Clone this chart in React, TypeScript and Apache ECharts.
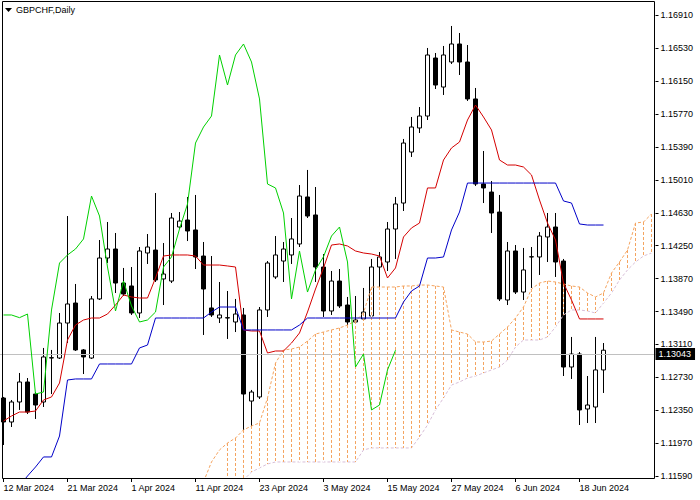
import React, { useEffect, useRef } from "react";
import * as echarts from "echarts";

const dates = [
  "12 Mar 2024","13 Mar 2024","14 Mar 2024","15 Mar 2024","17 Mar 2024","18 Mar 2024","19 Mar 2024","20 Mar 2024",
  "21 Mar 2024","22 Mar 2024","24 Mar 2024","25 Mar 2024","26 Mar 2024","27 Mar 2024","28 Mar 2024","29 Mar 2024",
  "1 Apr 2024","2 Apr 2024","3 Apr 2024","4 Apr 2024","5 Apr 2024","8 Apr 2024","9 Apr 2024","10 Apr 2024",
  "11 Apr 2024","12 Apr 2024","15 Apr 2024","16 Apr 2024","17 Apr 2024","18 Apr 2024","19 Apr 2024","22 Apr 2024",
  "23 Apr 2024","24 Apr 2024","25 Apr 2024","26 Apr 2024","29 Apr 2024","30 Apr 2024","1 May 2024","2 May 2024",
  "3 May 2024","6 May 2024","7 May 2024","8 May 2024","9 May 2024","10 May 2024","13 May 2024","14 May 2024",
  "15 May 2024","16 May 2024","17 May 2024","20 May 2024","21 May 2024","22 May 2024","23 May 2024","24 May 2024",
  "27 May 2024","28 May 2024","29 May 2024","30 May 2024","31 May 2024","3 Jun 2024","4 Jun 2024","5 Jun 2024",
  "6 Jun 2024","7 Jun 2024","10 Jun 2024","11 Jun 2024","12 Jun 2024","13 Jun 2024","14 Jun 2024","17 Jun 2024",
  "18 Jun 2024","19 Jun 2024","20 Jun 2024","21 Jun 2024","24 Jun 2024","25 Jun 2024","26 Jun 2024","27 Jun 2024",
  "28 Jun 2024","1 Jul 2024"
];

const opens = [
  1.12491,1.12214,1.12445,1.12676,1.12537,1.12445,1.12953,1.12953,1.13357,1.13588,
  1.13046,1.12953,1.13635,1.14108,1.14212,1.13819,1.13785,1.13473,1.14166,1.14200,
  1.13866,1.13842,1.14466,1.14547,1.14432,1.14131,1.13531,1.13415,1.13415,1.13369,
  1.13450,1.12456,1.12503,1.13508,1.13889,1.14073,1.14143,1.14270,1.14813,1.14605,
  1.14004,1.13496,1.13842,1.13565,1.13369,1.13404,1.13438,1.14004,1.14062,1.14443,
  1.14743,1.15332,1.15610,1.15748,1.16418,1.16083,1.16372,1.16580,1.16372,1.15945,
  1.14963,1.14870,1.14639,1.13623,1.14189,1.13715,1.14120,1.14120,1.14351,1.14466,
  1.14073,1.12849,1.12999,1.12364,1.12387,1.12815
];
const closes = [
  1.12214,1.12445,1.12676,1.12329,1.12410,1.12965,1.12957,1.13357,1.13577,1.13046,
  1.12965,1.13635,1.14108,1.14212,1.13819,1.13692,1.13473,1.14189,1.14235,1.13854,
  1.13923,1.14570,1.14535,1.14420,1.14120,1.13750,1.13450,1.13450,1.13419,1.13461,
  1.12537,1.12560,1.13508,1.14050,1.14143,1.14212,1.14328,1.14824,1.14593,1.14004,
  1.13496,1.13842,1.13554,1.13369,1.13392,1.13484,1.14004,1.14120,1.14443,1.14732,
  1.15436,1.15621,1.15748,1.16453,1.16106,1.16453,1.16580,1.16372,1.15945,1.14963,
  1.14917,1.14628,1.13635,1.14189,1.13715,1.13970,1.14123,1.14362,1.14466,1.14062,
  1.12849,1.12999,1.12353,1.12410,1.12815,1.13043
];
const lows = [
  1.11948,1.12156,1.12353,1.12306,1.12249,1.12387,1.12537,1.12942,1.13126,1.13034,
  1.12768,1.12942,1.13623,1.14050,1.13704,1.13669,1.13450,1.13415,1.14039,1.13831,
  1.13565,1.13819,1.14443,1.14304,1.13981,1.13219,1.13427,1.13357,1.13173,1.13253,
  1.11706,1.12145,1.12480,1.13427,1.13866,1.13831,1.14039,1.14235,1.14570,1.13831,
  1.13427,1.13450,1.13531,1.13300,1.13126,1.13277,1.13277,1.13646,1.13958,1.14097,
  1.14651,1.15275,1.15552,1.15702,1.16060,1.15991,1.16349,1.16222,1.15922,1.14940,
  1.14743,1.14397,1.13611,1.13565,1.13692,1.13623,1.13762,1.13912,1.14062,1.13889,
  1.12745,1.12711,1.12179,1.12202,1.12202,1.12549
];
const highs = [
  1.12503,1.12468,1.12780,1.12722,1.12560,1.13069,1.13046,1.13473,1.14593,1.13808,
  1.13057,1.13669,1.14316,1.14524,1.14397,1.13993,1.14004,1.14235,1.14385,1.14859,
  1.14281,1.14628,1.14639,1.14813,1.14836,1.14293,1.14131,1.13831,1.13727,1.13635,
  1.13531,1.12584,1.13542,1.14073,1.14362,1.14293,1.14570,1.14951,1.15125,1.14928,
  1.14154,1.13958,1.13981,1.13658,1.13669,1.13762,1.14097,1.14177,1.14524,1.14813,
  1.15483,1.15737,1.15852,1.16534,1.16476,1.16557,1.16788,1.16707,1.16568,1.16072,
  1.15344,1.14997,1.14836,1.14293,1.14258,1.14224,1.14235,1.14408,1.14628,1.14628,
  1.14097,1.13196,1.13022,1.12745,1.13196,1.13126
];

// Tenkan-sen (red)
const tenkan = [
  1.12225,1.12283,1.12329,1.12329,1.12341,1.12468,1.12503,1.12664,1.13161,1.13334,
  1.13392,1.13415,1.13415,1.13461,1.13565,1.13681,1.13658,1.13646,1.13646,1.13877,
  1.14131,1.14143,1.14143,1.14143,1.14131,1.14027,1.14027,1.14027,1.14016,1.14004,
  1.13277,1.13265,1.13265,1.13011,1.13034,1.13034,1.13126,1.13242,1.13484,1.13750,
  1.13993,1.14258,1.14270,1.14247,1.14189,1.14166,1.14154,1.14131,1.13877,1.13993,
  1.14351,1.14455,1.14512,1.14917,1.14917,1.15240,1.15379,1.15448,1.15702,1.15875,
  1.15737,1.15587,1.15240,1.15182,1.15182,1.15159,1.15067,1.14778,1.14512,1.14316,
  1.13819,1.13623,1.13404,1.13404,1.13404,1.13404
];
// Kijun-sen (blue)
const kijun = [
  1.11198,1.11336,1.11475,1.11590,1.11694,1.11810,1.11810,1.12052,1.12699,1.12711,
  1.12711,1.12711,1.12884,1.12884,1.12884,1.12884,1.12884,1.13069,1.13103,1.13415,
  1.13415,1.13415,1.13415,1.13415,1.13415,1.13415,1.13484,1.13542,1.13542,1.13542,
  1.13277,1.13277,1.13277,1.13277,1.13277,1.13277,1.13277,1.13334,1.13415,1.13415,
  1.13415,1.13415,1.13415,1.13415,1.13415,1.13415,1.13415,1.13415,1.13415,1.13415,
  1.13600,1.13727,1.13785,1.14108,1.14108,1.14120,1.14432,1.14639,1.14974,1.14974,
  1.14974,1.14974,1.14974,1.14974,1.14974,1.14974,1.14974,1.14974,1.14974,1.14974,
  1.14767,1.14743,1.14501,1.14489,1.14489,1.14489
];
// Senkou span A, from bar 24 to bar 81
const spanAStart = 24;
const spanA = [
  1.11313,1.11521,1.11752,1.11891,1.11971,1.12029,1.12122,1.12168,1.12202,1.12491,
  1.12895,1.13046,1.13057,1.13080,1.13149,1.13230,1.13253,1.13277,1.13300,1.13334,
  1.13380,1.13473,1.13773,1.13773,1.13773,1.13773,1.13785,1.13785,1.13796,1.13796,
  1.13785,1.13773,1.13277,1.13253,1.13230,1.13138,1.13138,1.13149,1.13230,1.13311,
  1.13415,1.13542,1.13750,1.13819,1.13842,1.13831,1.13808,1.13785,1.13773,1.13704,
  1.13658,1.13704,1.13935,1.14062,1.14200,1.14512,1.14524,1.14616
];
// Senkou span B, from bar 28 to bar 81
const spanBStart = 28;
const spanB = [
  1.11313,1.11429,1.11544,1.11636,1.11683,1.11729,1.11752,1.11752,1.11752,1.11752,
  1.11752,1.11752,1.11752,1.11752,1.11752,1.11752,1.11752,1.11891,1.11914,1.11914,
  1.11914,1.11914,1.11914,1.11914,1.12041,1.12179,1.12353,1.12491,1.12641,1.12676,
  1.12722,1.12745,1.12780,1.12815,1.12849,1.12930,1.13080,1.13161,1.13161,1.13161,
  1.13196,1.13311,1.13450,1.13508,1.13508,1.13496,1.13473,1.13588,1.13704,1.13854,
  1.13970,1.14062,1.14131,1.14166
];
// Chikou span (green): closes drawn 26 bars back
const chikouShift = 26;

const yTicks = [
  1.1159,1.1197,1.1235,1.1273,1.1311,1.1349,1.1387,1.1425,1.1463,1.1501,1.1539,1.1577,1.1615,1.1653,1.1691
];
const Y_MIN = 1.11567;
const Y_MAX = 1.17065;

const FONT = '"Liberation Sans", Arial, sans-serif';
const CLOUD_UP = "#f4a460";
const CLOUD_DOWN = "#d8bfd8";

export default function App() {
  const ref = useRef<HTMLDivElement>(null);
  useEffect(() => {
    const chart = echarts.init(ref.current as HTMLDivElement, null, { renderer: "svg" });
    const n = dates.length;
    const candleData = opens.map((o, i) => [o, closes[i], lows[i], highs[i]]);
    const pad = (arr: number[], start: number) => {
      const out: (number | null)[] = new Array(n).fill(null);
      arr.forEach((v, k) => { if (start + k < n) out[start + k] = v; });
      return out;
    };
    const aFull = pad(spanA, spanAStart);
    const bFull = pad(spanB, spanBStart);
    const chikou = pad(closes.slice(chikouShift), 0);
    const hatchLines: any[] = [];
    const hatchUnder: any[] = [];
    for (let i = 0; i < n; i++) {
      const a = aFull[i];
      const b = bFull[i];
      if (a == null || b == null) continue;
      const top = Math.min(Math.max(a, Y_MIN), Y_MAX);
      const bot = Math.min(Math.max(b, Y_MIN), Y_MAX);
      if (top === bot) continue;
      const col = a >= b ? CLOUD_UP : CLOUD_DOWN;
      hatchUnder.push([{ coord: [dates[i], top] }, { coord: [dates[i], bot] }]);
      hatchLines.push([
        { coord: [dates[i], top], lineStyle: { color: col } },
        { coord: [dates[i], bot] },
      ]);
    }
    const last = closes[closes.length - 1];
    const showIdx = (i: number) => i % 8 === 0 && i <= 72;

    const option: any = {
      animation: false,
      backgroundColor: "#ffffff",
      textStyle: { fontFamily: FONT },
      grid: { left: -0.5, top: 2, width: 656, height: 476, outerBoundsMode: "none", containLabel: false },
      xAxis: {
        type: "category",
        data: dates,
        boundaryGap: true,
        axisLine: { show: false },
        axisTick: { show: true, interval: (i: number) => showIdx(i), alignWithLabel: true, length: 4, lineStyle: { color: "#000" } },
        axisLabel: {
          interval: (i: number) => showIdx(i),
          align: "left",
          margin: 5,
          fontSize: 9,
          color: "#000",
          fontFamily: FONT,
        },
        splitLine: { show: false },
      },
      yAxis: {
        type: "value",
        position: "right",
        min: Y_MIN,
        max: Y_MAX,
        scale: true,
        axisLine: { show: false },
        axisTick: { show: true, customValues: yTicks, length: 3, lineStyle: { color: "#000" } },
        axisLabel: {
          customValues: yTicks,
          formatter: (v: number) => v.toFixed(5),
          margin: 5,
          fontSize: 9,
          color: "#000",
          fontFamily: FONT,
        },
        splitLine: { show: false },
      },
      series: [
        {
          type: "candlestick",
          data: candleData,
          barWidth: 4,
          z: 2,
          itemStyle: {
            color: "#ffffff",
            color0: "#000000",
            borderColor: "#000000",
            borderColor0: "#000000",
            borderColorDoji: "#000000",
            borderWidth: 1,
          },
          markLine: {
            silent: true,
            symbol: ["none", "none"],
            data: [{ yAxis: last }],
            lineStyle: { color: "#c0c0c0", type: "solid", width: 1 },
            label: {
              show: true,
              position: "end",
              distance: 0,
              formatter: () => last.toFixed(5),
              backgroundColor: "#000",
              color: "#fff",
              fontSize: 9,
              fontFamily: FONT,
              padding: [2, 4, 1, 3],
            },
            emphasis: { disabled: true },
          },
        },
        {
          type: "line",
          data: [],
          z: 3,
          silent: true,
          markLine: {
            silent: true,
            symbol: ["none", "none"],
            data: hatchUnder,
            lineStyle: { color: "#ffffff", type: "solid", width: 1 },
            label: { show: false },
            emphasis: { disabled: true },
          },
        },
        {
          type: "line",
          data: [],
          z: 3.5,
          silent: true,
          markLine: {
            silent: true,
            symbol: ["none", "none"],
            data: hatchLines,
            lineStyle: { color: CLOUD_UP, type: [3, 2], width: 1, opacity: 1 },
            label: { show: false },
            emphasis: { disabled: true },
          },
        },
        {
          type: "line", data: aFull, z: 4, symbol: "none", connectNulls: false,
          lineStyle: { color: CLOUD_UP, width: 1, type: [3, 2] },
        },
        {
          type: "line", data: bFull, z: 4, symbol: "none", connectNulls: false,
          lineStyle: { color: CLOUD_DOWN, width: 1, type: [3, 2] },
        },
        { type: "line", data: tenkan, z: 5, symbol: "none", lineStyle: { color: "#d40000", width: 1 } },
        { type: "line", data: kijun, z: 5, symbol: "none", lineStyle: { color: "#0000c8", width: 1 } },
        { type: "line", data: chikou, z: 5, symbol: "none", lineStyle: { color: "#00d000", width: 1 } },
      ],
      graphic: [
        {
          type: "rect",
          z: 100,
          silent: true,
          shape: { x: 2.5, y: 1.5, width: 652, height: 477 },
          style: { fill: "none", stroke: "#000", lineWidth: 1 },
        },
        {
          type: "polygon",
          z: 100,
          silent: true,
          shape: { points: [[5, 8], [12, 8], [8.5, 12]] },
          style: { fill: "#000" },
        },
        {
          type: "text",
          z: 100,
          silent: true,
          x: 16,
          y: 5,
          style: { text: "GBPCHF,Daily", fill: "#000", fontSize: 9, fontFamily: FONT },
        },
      ],
    };
    chart.setOption(option);
    return () => chart.dispose();
  }, []);
  return (
    <div
      ref={ref}
      style={{ position: "fixed", left: 0, top: 0, width: 700, height: 500, background: "#fff" }}
    />
  );
}
